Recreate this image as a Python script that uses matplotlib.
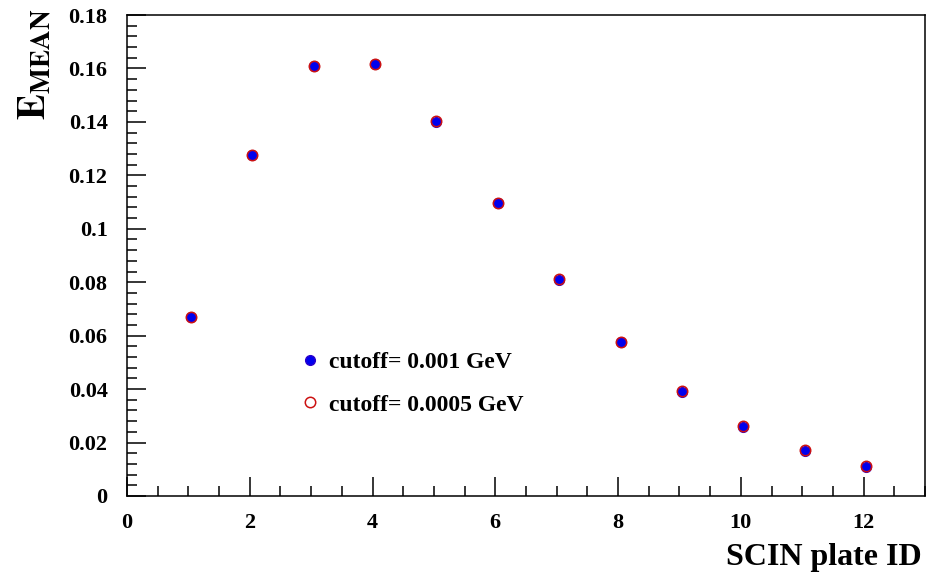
import matplotlib.pyplot as plt
from matplotlib.ticker import MultipleLocator

# Data
plate_id = [1.04, 2.04, 3.04, 4.04, 5.04, 6.04, 7.04, 8.04, 9.04, 10.04, 11.04, 12.04]
e_mean_001 = [0.067, 0.1275, 0.161, 0.1615, 0.140, 0.1095, 0.081, 0.0575, 0.039, 0.026, 0.017, 0.011]
e_mean_0005 = [0.067, 0.1275, 0.161, 0.1617, 0.1405, 0.1098, 0.0812, 0.0577, 0.0392, 0.0262, 0.0172, 0.0112]

plt.rcParams['font.family'] = 'Liberation Serif'
plt.rcParams['font.weight'] = 'bold'

fig = plt.figure(figsize=(9.36, 5.78), dpi=100)
ax = fig.add_axes([0.1357, 0.1419, 0.8525, 0.8321])

ax.plot(plate_id, e_mean_001, linestyle='none', marker='o', markersize=7,
        color='#0000ee', markeredgecolor='#2a00cc', label='cutoff= 0.001 GeV')
ax.plot(plate_id, e_mean_0005, linestyle='none', marker='o', markersize=7.5,
        markerfacecolor='none', markeredgecolor='#cc1111', markeredgewidth=1.1,
        label='cutoff= 0.0005 GeV')

ax.set_xlim(0, 13)
ax.set_ylim(0, 0.18)
ax.xaxis.set_major_locator(MultipleLocator(2))
ax.xaxis.set_minor_locator(MultipleLocator(0.5))
ax.yaxis.set_minor_locator(MultipleLocator(0.004))
ax.set_yticks([0, 0.02, 0.04, 0.06, 0.08, 0.1, 0.12, 0.14, 0.16, 0.18])
ax.set_yticklabels(['0', '0.02', '0.04', '0.06', '0.08', '0.1', '0.12', '0.14', '0.16', '0.18'])

ax.tick_params(which='major', direction='in', length=14, width=1.1, labelsize=16)
ax.tick_params(which='minor', direction='in', length=7, width=1.1)
ax.tick_params(axis='y', pad=14)
ax.tick_params(axis='x', pad=12)
for s in ax.spines.values():
    s.set_linewidth(1.1)

ax.legend(loc='upper left', bbox_to_anchor=(0.188, 0.345), frameon=False,
          prop={'size': 17, 'weight': 'bold'}, handletextpad=0.3, labelspacing=0.9,
          handlelength=1.0)

fig.text(0.985, 0.036, 'SCIN plate ID', ha='right', va='center', fontsize=23, fontweight='bold')
fig.text(0.018, 0.985, r'$\mathrm{E}_{\mathrm{MEAN}}$', ha='left', va='top', rotation=90,
         fontsize=28, math_fontfamily='stix')

fig.savefig('out.png', dpi=100)
